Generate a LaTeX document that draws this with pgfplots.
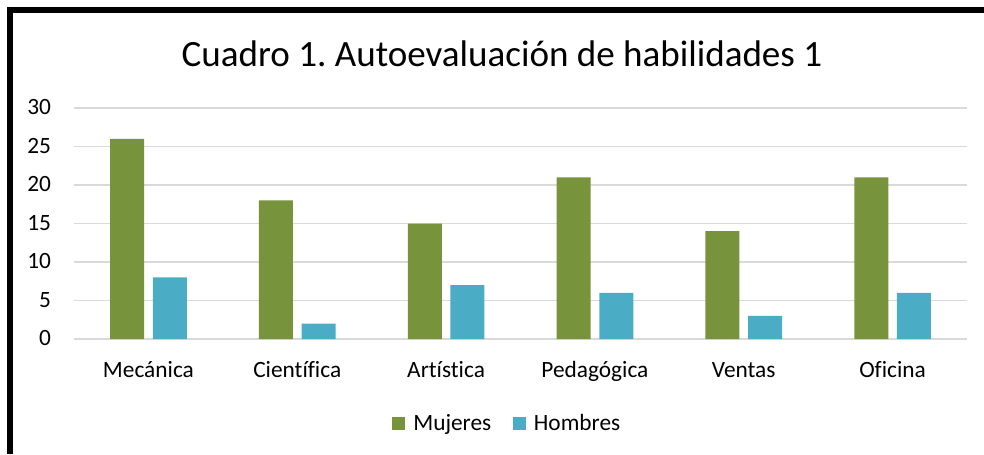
\documentclass[border=0pt]{standalone}
\usepackage{pgfplots}
\pgfplotsset{compat=1.18}
\usepackage{fontspec}
\setmainfont{Carlito}[Ligatures={NoCommon}]
\frenchspacing
\definecolor{cgreen}{HTML}{77933C}
\definecolor{cblue}{HTML}{4BACC6}
\definecolor{cgrid}{HTML}{D9D9D9}
\begin{document}
\begin{tikzpicture}
\path[use as bounding box] (0,0) rectangle (738pt,340.5pt);
\begin{axis}[
  at={(55.5pt,86.25pt)}, anchor=south west,
  scale only axis, width=669.75pt, height=173.25pt,
  xmin=-0.5, xmax=5.5, ymin=0, ymax=30,
  enlargelimits=false,
  ybar, bar width=25.5pt,
  axis line style={draw=none},
  major tick length=0pt,
  ymajorgrids, grid style={cgrid, line width=1.3pt},
  ytick={0,5,...,30},
  xtick={0,...,5},
  xticklabels={Mecánica,Científica,Artística,Pedagógica,Ventas,Oficina},
  /pgf/number format/assume math mode=true,
  tick label style={font=\fontsize{17.5}{20}\selectfont, inner sep=0pt},
  yticklabel style={anchor=base east, xshift=-17pt, yshift=-4.9pt},
  xticklabel style={anchor=base, yshift=-28.5pt},
  legend columns=2,
  legend style={at={(0.4854,-0.3636)}, anchor=center, draw=none,
    font=\fontsize{17.5}{20}\selectfont, inner sep=0pt,
    /tikz/every even column/.append style={column sep=14pt},
    /tikz/every odd column/.append style={column sep=4pt}},
  legend cell align=left,
  legend image code/.code={\fill[#1,draw=none] (0pt,-5.5pt) rectangle (10pt,4.5pt);},
]
\addplot[fill=cgreen, draw=none, bar shift=-16pt] coordinates {(0,26) (1,18) (2,15) (3,21) (4,14) (5,21)};
\addplot[fill=cblue, draw=none, bar shift=16pt] coordinates {(0,8) (1,2) (2,7) (3,6) (4,3) (5,6)};
\legend{Mujeres,Hombres}
\end{axis}
\node[anchor=base, inner sep=0pt, font=\fontsize{27.8}{32}\selectfont] at (376.5pt,290.25pt) {Cuadro 1. Autoevaluación de habilidades 1};
\draw[line width=4.5pt] (7.5pt,0) -- (7.5pt,333pt) -- (738pt,333pt);
\end{tikzpicture}
\end{document}
